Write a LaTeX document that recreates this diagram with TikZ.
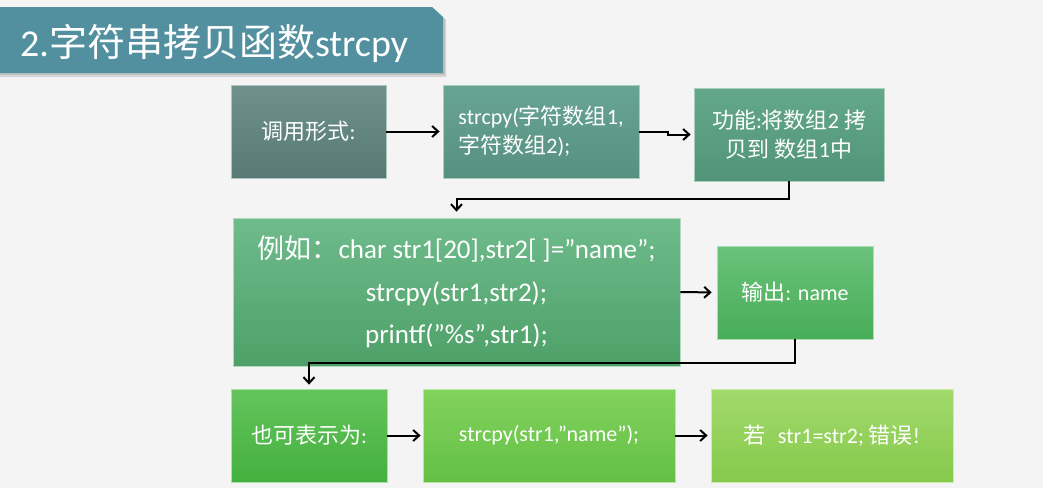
\documentclass[tikz,border=0pt]{standalone}
\usepackage{fontspec}
\setmainfont{Carlito}
\newfontfamily\cjk{Noto Sans CJK SC}
\newcommand{\zh}[1]{{\cjk #1}}
\usetikzlibrary{arrows.meta,calc}
\definecolor{bg}{HTML}{F4F4F4}
\definecolor{titlec}{HTML}{5290A0}
\definecolor{c1t}{HTML}{6E918D}\definecolor{c1b}{HTML}{587A75}
\definecolor{c2t}{HTML}{68A494}\definecolor{c2b}{HTML}{57907F}
\definecolor{c3t}{HTML}{64A88B}\definecolor{c3b}{HTML}{519479}
\definecolor{c4t}{HTML}{6FBB8C}\definecolor{c4b}{HTML}{4EA068}
\definecolor{c5t}{HTML}{6AC27A}\definecolor{c5b}{HTML}{48AD58}
\definecolor{c6t}{HTML}{64C45C}\definecolor{c6b}{HTML}{44B03E}
\definecolor{c7t}{HTML}{82D25E}\definecolor{c7b}{HTML}{64C044}
\definecolor{c8t}{HTML}{A2DA6C}\definecolor{c8b}{HTML}{86C94C}
\tikzset{
  box/.style 2 args={rectangle, top color=#1, bottom color=#2, draw=#1!55!white,
    line width=0.8pt, text=white, align=center, inner sep=0pt,
    font=\fontsize{22}{29}\selectfont},
  arr/.style={draw=black, line width=2pt, -{Straight Barb[length=6pt,width=11pt]}},
}
\begin{document}
\begin{tikzpicture}[x=1pt,y=-1pt]
\useasboundingbox (0,0) rectangle (1043,488);
\fill[bg] (0,0) rectangle (1043,488);
% title bar
\fill[black,opacity=0.12] (0,10) -- (435,10) -- (446,20) -- (446,77) -- (0,77) -- cycle;
\fill[black,opacity=0.10] (0,9) -- (434,9) -- (445,19) -- (445,75) -- (0,75) -- cycle;
\fill[titlec] (0,7) -- (432,7) -- (443,17) -- (443,73) -- (0,73) -- cycle;
\node[anchor=base west, text=white, inner sep=0pt, font=\fontsize{38}{40}\selectfont] (title) at (20,56) {2.\zh{字符串拷贝函数}strcpy};
% boxes
\node[box={c1t}{c1b}, minimum width=155pt, minimum height=93pt] (b1) at (308.5,131.5) {\zh{调用形式}:};
\node[box={c2t}{c2b}, minimum width=196pt, minimum height=93pt, align=left] (b2) at (541,131.5) {strcpy(\zh{字符数组}1,\\\zh{字符数组}2);};
\node[box={c3t}{c3b}, minimum width=190pt, minimum height=93pt] (b3) at (789,134.5) {\zh{功能}:\zh{将数组}2 \zh{拷}\\\zh{贝到} \zh{数组}1\zh{中}};
\node[box={c4t}{c4b}, minimum width=447pt, minimum height=148pt, font=\fontsize{27}{42.5}\selectfont] (b4) at (456.5,292) {\zh{例如：}char str1[20],str2[ ]=”name”;\\strcpy(str1,str2);\\printf(”\%s”,str1);};
\node[box={c5t}{c5b}, minimum width=156pt, minimum height=93pt] (b5) at (795,292.5) {\zh{输出}: name};
\node[box={c6t}{c6b}, minimum width=156pt, minimum height=93pt] (b6) at (309,435.5) {\zh{也可表示为}:};
\node[box={c7t}{c7b}, minimum width=252pt, minimum height=93pt] (b7) at (549,435.5) {strcpy(str1,”name”);};
\node[box={c8t}{c8b}, minimum width=242pt, minimum height=93pt] (b8) at (832,435.5) {\zh{若}\hspace{12pt}str1=str2; \zh{错误}!};
% connectors
\coordinate (k1) at (668,131.5);
\coordinate (k2) at (789,199);
\coordinate (k3) at (795,363);
\draw[arr, shorten >=3pt] (b1.east) -- (b2.west);
\draw[arr, shorten >=3pt] (b2.east) -- (k1) |- (b3.west);
\draw[arr, shorten >=6pt] (b3.south) -- (k2) -| (b4.north);
\draw[arr, shorten >=5pt] (b4.east) -- (b5.west);
\draw[arr, shorten >=4pt] (b5.south) -- (k3) -| (b6.north);
\draw[arr, shorten >=2pt] (b6.east) -- (b7.west);
\draw[arr, shorten >=3pt] (b7.east) -- (b8.west);
\end{tikzpicture}
\end{document}
